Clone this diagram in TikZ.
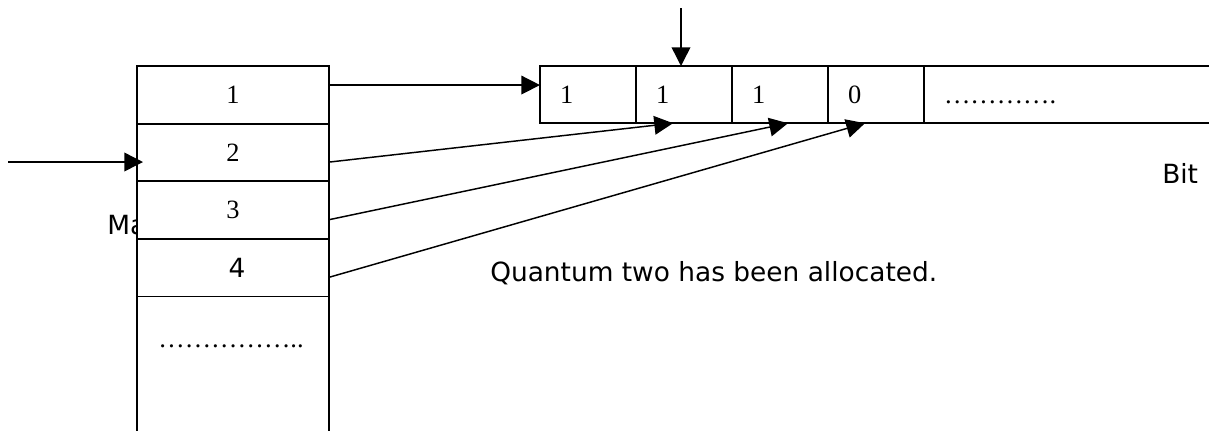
\documentclass[tikz,border=0pt]{standalone}
\usepackage{fontspec}
\setmainfont{Liberation Serif}
\setsansfont{DejaVu Sans}
\usetikzlibrary{arrows.meta,positioning}

\begin{document}
\begin{tikzpicture}[
  x=0.75pt,y=-0.75pt,
  memcell/.style={
    draw,
    fill=white,
    line width=1.3pt,
    minimum width=144pt,
    minimum height=43.2pt,
    inner sep=0pt,
    outer sep=0pt,
    font=\fontsize{19.8}{24}\selectfont
  },
  bitcell/.style={
    draw,
    line width=1.3pt,
    minimum height=42.9pt,
    text width=42pt,
    inner xsep=15pt,
    inner ysep=0pt,
    outer sep=0pt,
    align=left,
    text height=13.4pt,
    text depth=0pt,
    font=\fontsize{19.8}{24}\selectfont
  },
  link/.style={-{Triangle[length=14pt,width=14pt]}, line width=1.1pt},
  caption/.style={font=\sffamily\fontsize{19.8}{24}\selectfont, inner sep=0pt, anchor=base west}
]
\clip (0,0) rectangle (1209,430);

% Label partly hidden by the map column
\node[caption] (maplabel) at (107,234) {Ma};

% Map column
\node[memcell] (m1) at (233,94.9) {1};
\node[memcell,below=0pt of m1] (m2) {2};
\node[memcell,below=0pt of m2] (m3) {3};
\node[memcell,below=0pt of m3] (m4) {\hspace*{6pt}{\sffamily 4}};
\node[memcell,below=0pt of m4,minimum height=200pt] (m5) {};
\node[font=\fontsize{19.8}{24}\selectfont,inner sep=0pt,anchor=base] (mdots) at (231,347) {……………..};

% Bit map row
\node[bitcell] (b1) at (588,94.6) {1};
\node[bitcell,right=0pt of b1] (b2) {1};
\node[bitcell,right=0pt of b2] (b3) {1};
\node[bitcell,right=0pt of b3] (b4) {0};
\node[bitcell,right=0pt of b4,text width=252pt] (b5) {………….};

% Free ends
\coordinate (lin) at (8,162);
\coordinate (tin) at (681,8);

\draw[link,shorten >=-4.5pt] (lin) -- (lin -| m2.west);
\draw[link] (tin) -- (tin |- b2.north);
\draw[link] ([yshift=7.4pt]m1.east) -- ([yshift=7.4pt]m1.east -| b1.west);
\draw[link] ([yshift=-7.2pt]m2.east) -- ([xshift=-8.25pt]b2.south);
\draw[link] ([yshift=-7.2pt]m3.east) -- ([xshift=6pt]b3.south);
\draw[link] ([yshift=-7.2pt]m4.east) -- ([xshift=-8.25pt]b4.south);

\node[caption] (bitlabel) at (1162,183) {Bit};
\node[caption] (note) at (490,281) {Quantum two has been allocated.};
\end{tikzpicture}
\end{document}
